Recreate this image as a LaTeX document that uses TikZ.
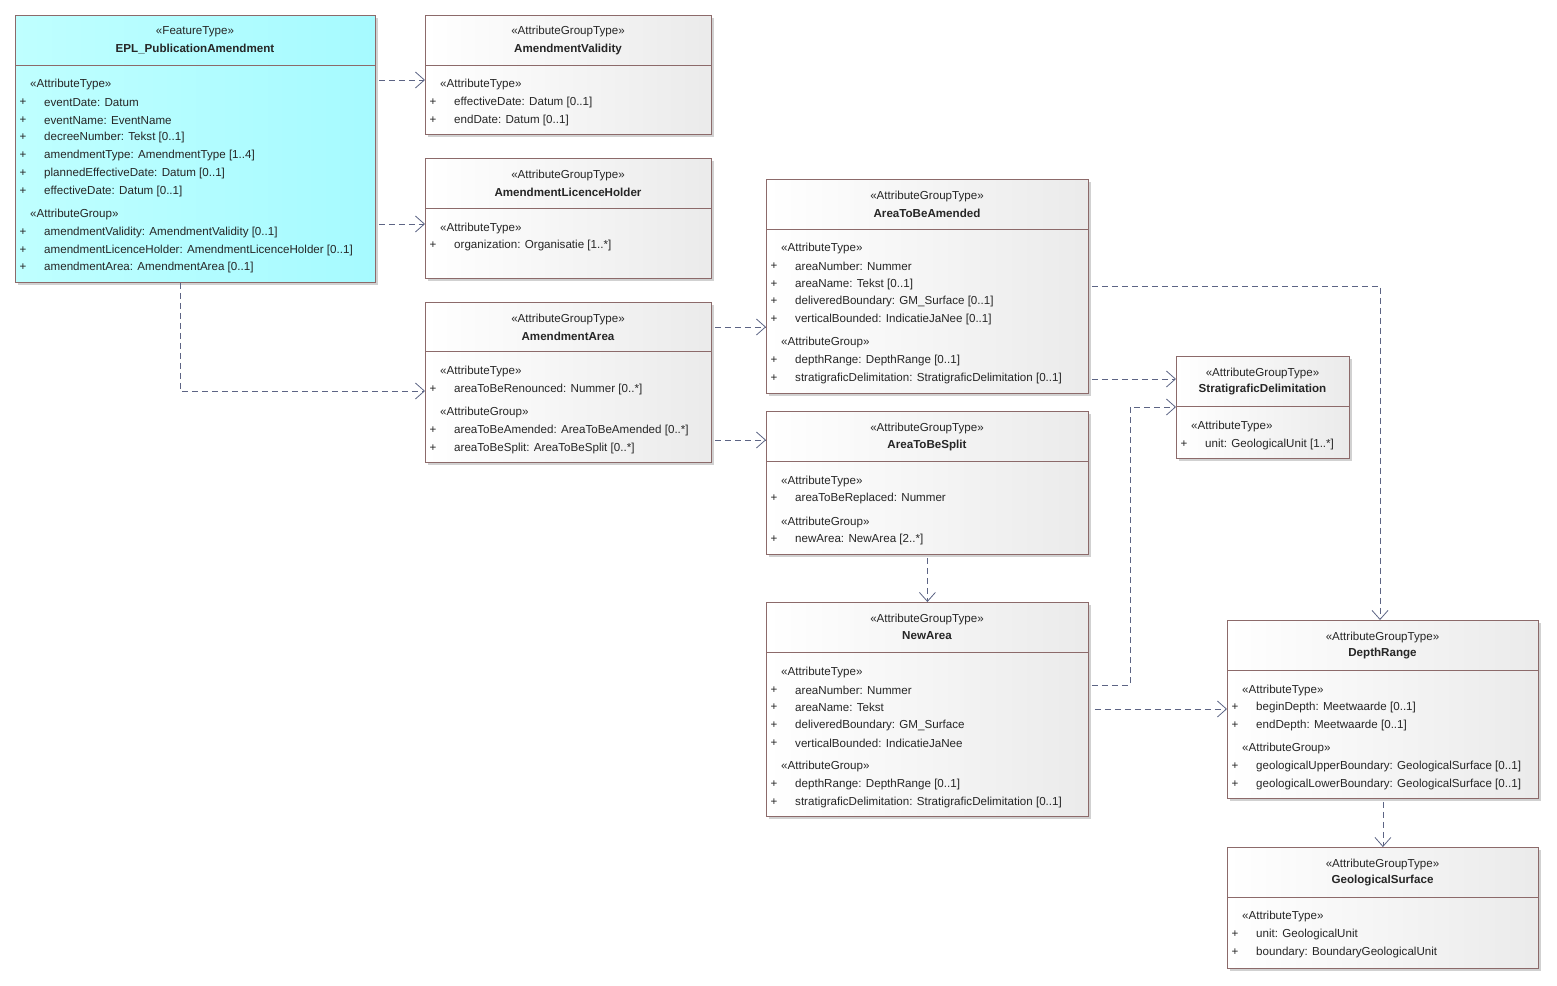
\documentclass[tikz,border=0pt]{standalone}
\usepackage{fontspec}
\setmainfont{Liberation Sans}
\usetikzlibrary{arrows.meta,shadows}
\definecolor{bord}{HTML}{8C6A6A}
\definecolor{conn}{HTML}{5C6484}
\definecolor{cyanA}{HTML}{BFFFFF}
\definecolor{cyanB}{HTML}{A6FAFF}
\tikzset{
  box/.style={draw=bord, line width=0.8pt, anchor=north west, inner sep=0pt,
    drop shadow={shadow xshift=3pt, shadow yshift=-3pt, fill=black!30, opacity=0.6}},
  gray box/.style={box, left color=white, right color=black!8},
  cyan box/.style={box, left color=cyanA, right color=cyanB},
  txt/.style={font=\fontsize{11.6}{12}\selectfont, inner sep=0pt, text=black!85},
  bold txt/.style={txt, font=\fontsize{11.6}{12}\selectfont\bfseries},
  dep/.style={draw=conn, line width=0.8pt, dash pattern=on 6pt off 4pt,
    -{Straight Barb[length=9pt,width=16pt,line width=0.8pt]}},
}
\newcommand{\umlbox}[9]{%
  \node[#2, minimum width=#5pt, minimum height=#6pt] (#1) at (#3,#4) {};
  \draw[bord, line width=0.8pt] (#3,#4+#7) -- (#3+#5,#4+#7);
  \node[txt] (#1-st) at (#3+#5/2,#4+17) {«#8»};
  \node[bold txt] (#1-ti) at (#3+#5/2,#4+34) {#9};
}
\newcommand{\ster}[3]{\node[txt, anchor=west] at (#1+15,#2+1.5) {«#3»};}
\newcommand{\att}[3]{\node[txt] at (#1+8,#2+1.5) {+}; \node[txt, anchor=west] at (#1+29,#2+1.5) {#3};}
\begin{document}
\begin{tikzpicture}[x=1pt,y=-1pt]
\useasboundingbox (0,0) rectangle (1557,985);
\umlbox{epl}{cyan box}{15}{15}{360}{267}{50}{FeatureType}{EPL\_PublicationAmendment}
\ster{15}{83}{AttributeType}
\att{15}{101}{eventDate: Datum}
\att{15}{119}{eventName: EventName}
\att{15}{136}{decreeNumber: Tekst [0..1]}
\att{15}{154}{amendmentType: AmendmentType [1..4]}
\att{15}{172}{plannedEffectiveDate: Datum [0..1]}
\att{15}{190}{effectiveDate: Datum [0..1]}
\ster{15}{213}{AttributeGroup}
\att{15}{231}{amendmentValidity: AmendmentValidity [0..1]}
\att{15}{249}{amendmentLicenceHolder: AmendmentLicenceHolder [0..1]}
\att{15}{266}{amendmentArea: AmendmentArea [0..1]}
\umlbox{av}{gray box}{425}{15}{286}{119}{50}{AttributeGroupType}{AmendmentValidity}
\ster{425}{83}{AttributeType}
\att{425}{101}{effectiveDate: Datum [0..1]}
\att{425}{119}{endDate: Datum [0..1]}
\umlbox{alh}{gray box}{425}{158}{286}{120}{50}{AttributeGroupType}{AmendmentLicenceHolder}
\ster{425}{227}{AttributeType}
\att{425}{244}{organization: Organisatie [1..*]}
\umlbox{aa}{gray box}{425}{302}{286}{160}{49}{AttributeGroupType}{AmendmentArea}
\ster{425}{370}{AttributeType}
\att{425}{388}{areaToBeRenounced: Nummer [0..*]}
\ster{425}{411}{AttributeGroup}
\att{425}{429}{areaToBeAmended: AreaToBeAmended [0..*]}
\att{425}{447}{areaToBeSplit: AreaToBeSplit [0..*]}
\umlbox{atba}{gray box}{766}{179}{322}{214}{50}{AttributeGroupType}{AreaToBeAmended}
\ster{766}{247}{AttributeType}
\att{766}{265}{areaNumber: Nummer}
\att{766}{283}{areaName: Tekst [0..1]}
\att{766}{300}{deliveredBoundary: GM\_Surface [0..1]}
\att{766}{318}{verticalBounded: IndicatieJaNee [0..1]}
\ster{766}{341}{AttributeGroup}
\att{766}{359}{depthRange: DepthRange [0..1]}
\att{766}{377}{stratigraficDelimitation: StratigraficDelimitation [0..1]}
\umlbox{sd}{gray box}{1176}{356}{173}{102}{50}{AttributeGroupType}{StratigraficDelimitation}
\ster{1176}{425}{AttributeType}
\att{1176}{443}{unit: GeologicalUnit [1..*]}
\umlbox{atbs}{gray box}{766}{411}{322}{143}{50}{AttributeGroupType}{AreaToBeSplit}
\ster{766}{480}{AttributeType}
\att{766}{497}{areaToBeReplaced: Nummer}
\ster{766}{521}{AttributeGroup}
\att{766}{538}{newArea: NewArea [2..*]}
\umlbox{na}{gray box}{766}{602}{322}{214}{50}{AttributeGroupType}{NewArea}
\ster{766}{671}{AttributeType}
\att{766}{689}{areaNumber: Nummer}
\att{766}{706}{areaName: Tekst}
\att{766}{724}{deliveredBoundary: GM\_Surface}
\att{766}{742}{verticalBounded: IndicatieJaNee}
\ster{766}{765}{AttributeGroup}
\att{766}{783}{depthRange: DepthRange [0..1]}
\att{766}{801}{stratigraficDelimitation: StratigraficDelimitation [0..1]}
\umlbox{dr}{gray box}{1227}{620}{311}{178}{50}{AttributeGroupType}{DepthRange}
\ster{1227}{689}{AttributeType}
\att{1227}{706}{beginDepth: Meetwaarde [0..1]}
\att{1227}{724}{endDepth: Meetwaarde [0..1]}
\ster{1227}{747}{AttributeGroup}
\att{1227}{765}{geologicalUpperBoundary: GeologicalSurface [0..1]}
\att{1227}{783}{geologicalLowerBoundary: GeologicalSurface [0..1]}
\umlbox{gs}{gray box}{1227}{847}{311}{121}{50}{AttributeGroupType}{GeologicalSurface}
\ster{1227}{915}{AttributeType}
\att{1227}{933}{unit: GeologicalUnit}
\att{1227}{951}{boundary: BoundaryGeologicalUnit}
\coordinate (c1) at (180,391);
\coordinate (c2) at (1380,286);
\coordinate (c3) at (1130,685);
\coordinate (c4) at (1130,407);
\path[dep] (epl.east |- 0,80) ++(3,0) -- (av.west |- 0,80);
\path[dep] (epl.east |- 0,224) ++(3,0) -- (alh.west |- 0,224);
\path[dep] (epl.south -| c1) -- (c1) -- (aa.west |- c1);
\path[dep] (aa.east |- 0,327) ++(3,0) -- (atba.west |- 0,327);
\path[dep] (aa.east |- 0,440) ++(3,0) -- (atbs.west |- 0,440);
\path[dep] (atba.east |- c2) ++(3,0) -- (c2) -- (dr.north -| c2);
\path[dep] (atba.east |- 0,379) ++(3,0) -- (sd.west |- 0,379);
\path[dep] (na.east |- c3) ++(3,0) -- (c3) -- (c4) -- (sd.west |- c4);
\path[dep] (na.east |- 0,709) ++(6,0) -- (dr.west |- 0,709);
\path[dep] (atbs.south) ++(0,3) -- (na.north);
\path[dep] (dr.south) ++(0,3) -- (gs.north);
\end{tikzpicture}
\end{document}
